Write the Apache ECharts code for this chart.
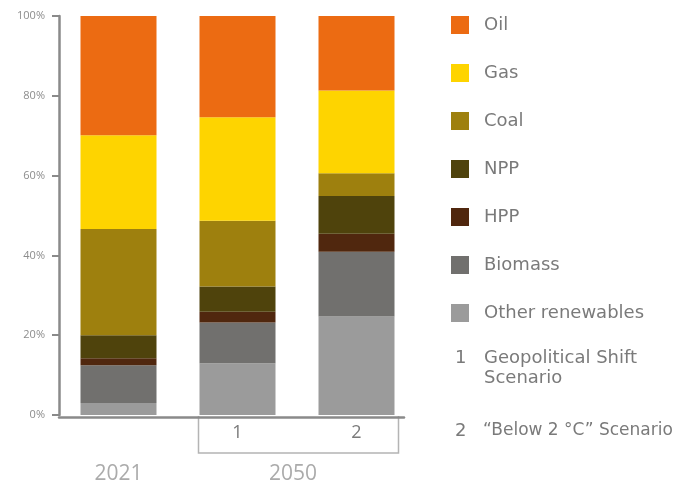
<!DOCTYPE html>
<html>
<head>
<meta charset="utf-8">
<script src="https://cdn.jsdelivr.net/npm/echarts@6/dist/echarts.min.js"></script>
<style>
  html, body { margin: 0; padding: 0; background: #ffffff; }
  #chart { width: 678px; height: 485px; }
</style>
</head>
<body>
<div id="chart"></div>
<script>
// Energy mix shares, % (2021 and two 2050 scenarios)
const categories = ['2021', '1', '2'];
const otherRenewables = [3.0, 13.0, 24.7];
const biomass = [9.5, 10.2, 16.2];
const hpp = [1.7, 2.7, 4.5];
const npp = [5.8, 6.3, 9.5];
const coal = [26.6, 16.5, 5.7];
const gas = [23.5, 25.9, 20.7];
const oil = [29.9, 25.4, 18.7];
const yTicks = [0, 20, 40, 60, 80, 100];
const groupLabels = ['2021', '2050'];
const notes = [
  ['1', 'Geopolitical Shift\nScenario'],
  ['2', '\u201CBelow 2 \u00B0C\u201D Scenario']
];

const FONT = '"Open Sans", sans-serif';
const LEGEND_FONT = '"DejaVu Sans", sans-serif';
const seriesDefs = [
  { name: 'Other renewables', data: otherRenewables, color: '#9b9b9b' },
  { name: 'Biomass', data: biomass, color: '#71706e' },
  { name: 'HPP', data: hpp, color: '#50270e' },
  { name: 'NPP', data: npp, color: '#4f430c' },
  { name: 'Coal', data: coal, color: '#9e800e' },
  { name: 'Gas', data: gas, color: '#fed400' },
  { name: 'Oil', data: oil, color: '#ec6b12' }
];
const BAR_W = 76;

const chart = echarts.init(document.getElementById('chart'), null, { renderer: 'canvas' });

chart.setOption({
  animation: false,
  textStyle: { fontFamily: FONT },
  grid: [
    { left: 59, top: 16, width: 357, height: 401 },
    { left: 59, top: 16, width: 345, height: 401 }
  ],
  legend: {
    orient: 'vertical',
    left: 451,
    top: 16,
    padding: 0,
    itemWidth: 18,
    itemHeight: 18,
    itemGap: 30,
    icon: 'rect',
    data: ['Oil', 'Gas', 'Coal', 'NPP', 'HPP', 'Biomass', 'Other renewables'],
    selectedMode: false,
    textStyle: { fontFamily: LEGEND_FONT, fontSize: 18, color: '#7a7a7a', padding: [0, 0, 0, 10] }
  },
  xAxis: [
    {
      type: 'category',
      gridIndex: 0,
      data: categories,
      axisLine: { show: false },
      axisTick: { show: false },
      axisLabel: {
        margin: 9,
        formatter: function (v, i) {
          return i === 0 ? '{yr|' + groupLabels[0] + '}' : '{n|' + v + '}';
        },
        rich: {
          yr: { fontFamily: FONT, fontSize: 21, color: '#ababab', padding: [40, 0, 0, 0] },
          n: { fontFamily: FONT, fontSize: 18, color: '#7a7a7a' }
        }
      }
    },
    {
      type: 'value',
      gridIndex: 1,
      min: 0,
      max: 1,
      axisLine: { show: true, lineStyle: { color: '#8a8a8a', width: 2.5 } },
      axisTick: { show: false },
      axisLabel: { show: false },
      splitLine: { show: false }
    }
  ],
  yAxis: [
    {
      type: 'value',
      gridIndex: 0,
      min: 0,
      max: 100,
      interval: 20,
      axisLine: { show: true, lineStyle: { color: '#8a8a8a', width: 2.5 } },
      axisTick: { show: true, length: 7, lineStyle: { color: '#8a8a8a', width: 2 } },
      axisLabel: {
        margin: 14,
        fontFamily: FONT,
        fontSize: 11,
        color: '#8c8c8c',
        formatter: function (v) { return yTicks.indexOf(v) >= 0 ? v + '%' : ''; }
      },
      splitLine: { show: false }
    },
    {
      type: 'value',
      gridIndex: 1,
      show: false
    }
  ],
  series: seriesDefs.map(function (s) {
    return {
      name: s.name,
      type: 'bar',
      stack: 'mix',
      xAxisIndex: 0,
      yAxisIndex: 0,
      barWidth: BAR_W,
      data: s.data,
      itemStyle: { color: s.color }
    };
  })
});

// Scenario bracket, 2050 group label and footnotes, placed from the axis scale
const c1 = chart.convertToPixel({ xAxisIndex: 0 }, categories[1]);
const c2 = chart.convertToPixel({ xAxisIndex: 0 }, categories[2]);
const y0 = chart.convertToPixel({ yAxisIndex: 0 }, 0);
const bx0 = c1 - BAR_W / 2 - 1;
const bx1 = c2 + BAR_W / 2 + 4;
const by1 = y0 + 38;

const noteStyle = { fontFamily: LEGEND_FONT, fontSize: 18, fill: '#7a7a7a', verticalAlign: 'middle' };
const noteStyleSmall = Object.assign({}, noteStyle, { fontSize: 17 });

chart.setOption({
  graphic: [
    {
      type: 'polyline',
      shape: { points: [[bx0, y0 + 1], [bx0, by1], [bx1, by1], [bx1, y0 + 1]] },
      style: { stroke: '#b4b4b4', lineWidth: 1.5, fill: null }
    },
    {
      type: 'text',
      x: (c1 + c2) / 2 - 4,
      y: y0 + 59,
      style: { text: groupLabels[1], fontFamily: FONT, fontSize: 21, fill: '#ababab', align: 'center', verticalAlign: 'middle' }
    },
    {
      type: 'text', x: 455, y: 358,
      style: Object.assign({ text: notes[0][0] }, noteStyle)
    },
    {
      type: 'text', x: 484, y: 368,
      style: Object.assign({ text: notes[0][1], lineHeight: 20 }, noteStyle)
    },
    {
      type: 'text', x: 455, y: 431,
      style: Object.assign({ text: notes[1][0] }, noteStyle)
    },
    {
      type: 'text', x: 483, y: 431,
      style: Object.assign({ text: notes[1][1] }, noteStyleSmall)
    }
  ]
});
</script>
</body>
</html>
